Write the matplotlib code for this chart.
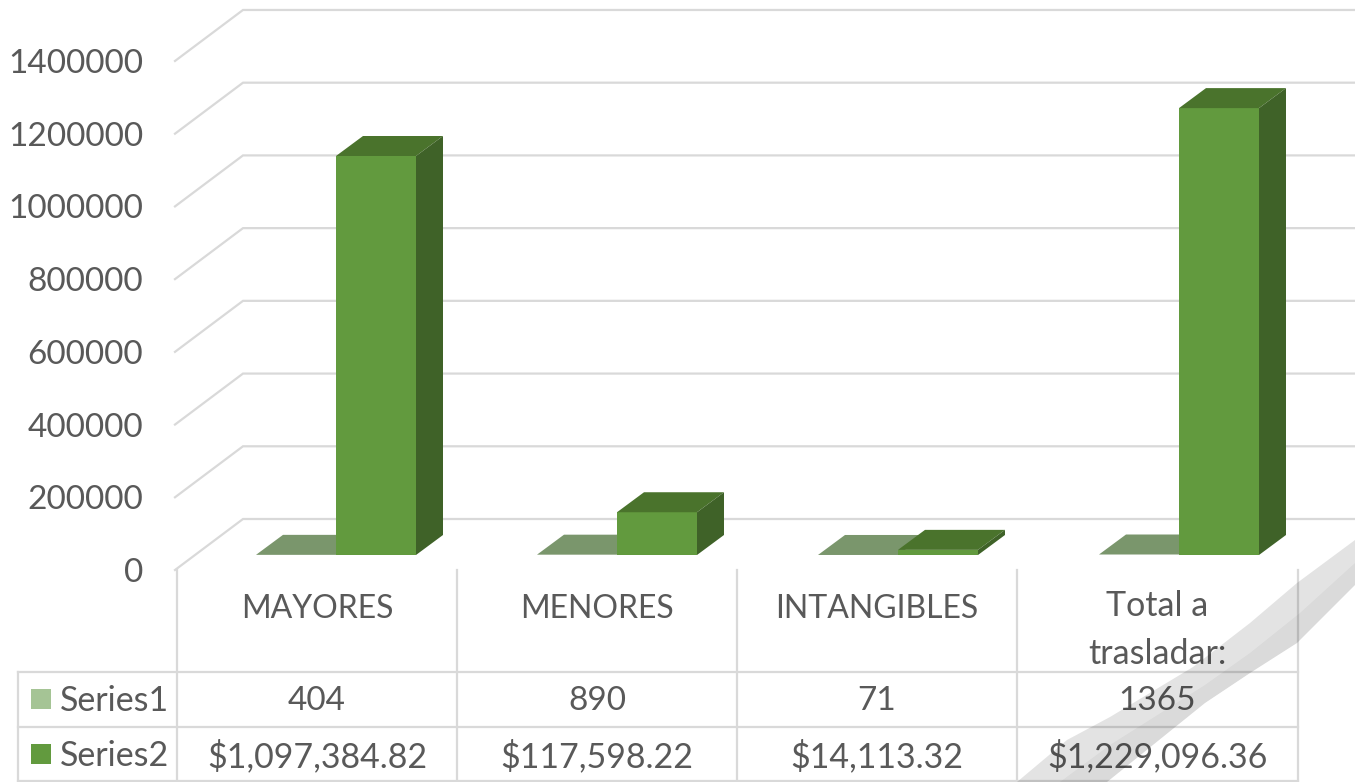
import matplotlib
matplotlib.use("Agg")
import matplotlib.pyplot as plt
from matplotlib.patches import Polygon

plt.rcParams["font.family"] = ["Lato", "DejaVu Sans"]

# Data
categories = ["MAYORES", "MENORES", "INTANGIBLES", "Total a\ntrasladar:"]
series_names = ["Series1", "Series2"]
series1 = [404, 890, 71, 1365]
series2 = [1097384.82, 117598.22, 14113.32, 1229096.36]
series1_labels = ["404", "890", "71", "1365"]
series2_labels = ["$1,097,384.82", "$117,598.22", "$14,113.32", "$1,229,096.36"]
y_ticks = [0, 200000, 400000, 600000, 800000, 1000000, 1200000, 1400000]

# Colours
text_col = "#595959"
grid_col = "#d9d9d9"
front_col = "#629a3e"
top_col = "#4a732c"
side_col = "#3f6228"
floor_col = "#7a966c"
swatch1 = "#a5c495"

W, H = 1355, 782
px_per_val = 399 / 1097384.82
px_per_cat = 281
x0_px, y0_px = 336, 555   # edge between the two bars of the first category, bar base


def dx(px):
    return px / px_per_cat


def dy(px):
    return px / px_per_val


fig = plt.figure(figsize=(W / 100, H / 100), dpi=100)
ax = fig.add_axes([0, 0, 1, 1])
ax.set_xlim(dx(-x0_px), dx(W - x0_px))
ax.set_ylim(dy(y0_px - H), dy(y0_px))
ax.axis("off")

# gridlines: floor side wall then back wall
for v in y_ticks:
    ax.plot([dx(175 - x0_px), dx(243 - x0_px), dx(W - x0_px)],
            [v - dy(15), v + dy(36), v + dy(36)],
            color=grid_col, lw=1.6, solid_joinstyle="miter", zorder=1)
    ax.text(dx(143 - x0_px), v - dy(18), str(v), ha="right", va="center",
            color=text_col, fontsize=24, zorder=5)

# bars
bw = dx(80)
dep_x, dep_y = dx(27), dy(20)
for i in range(len(categories)):
    x1 = i - bw
    ax.add_patch(Polygon([(x1, series1[i]), (x1 + bw, series1[i]),
                          (x1 + bw + dep_x, series1[i] + dep_y), (x1 + dep_x, series1[i] + dep_y)],
                         color=floor_col, lw=0, zorder=2))
ax.bar(range(len(categories)), series2, width=bw, align="edge", color=front_col, zorder=3)
for i, v in enumerate(series2):
    xl, xr = i, i + bw
    ax.add_patch(Polygon([(xl, v), (xr, v), (xr + dep_x, v + dep_y), (xl + dep_x, v + dep_y)],
                         color=top_col, lw=0, zorder=3))
    ax.add_patch(Polygon([(xr, 0), (xr + dep_x, dep_y), (xr + dep_x, v + dep_y), (xr, v)],
                         color=side_col, lw=0, zorder=3))

# data table, drawn in pixel space
tb = fig.add_axes([0, 0, 1, 1], facecolor="none")
tb.set_xlim(0, W)
tb.set_ylim(H, 0)
tb.axis("off")

col_x = [177, 457, 737, 1017, 1298]
for x in col_x:
    tb.plot([x, x], [570, H], color=grid_col, lw=1.6, zorder=1)
tb.plot([18, 18], [672, H], color=grid_col, lw=1.6, zorder=1)
for y in [672, 727, H - 1]:
    tb.plot([18, 1298], [y, y], color=grid_col, lw=1.6, zorder=1)

for i in range(len(categories)):
    cx = (col_x[i] + col_x[i + 1]) / 2
    if "\n" in categories[i]:
        tb.text(cx, 630, categories[i], ha="center", va="center",
                color=text_col, fontsize=24.5, linespacing=1.6, zorder=5)
    else:
        tb.text(cx, 609, categories[i], ha="center", va="center",
                color=text_col, fontsize=23, zorder=5)
    tb.text(cx, 701, series1_labels[i], ha="center", va="center", color=text_col, fontsize=24, zorder=5)
    tb.text(cx, 756, series2_labels[i], ha="center", va="center", color=text_col, fontsize=24.5, zorder=5)

# legend keys
for y, name, col in [(699, series_names[0], swatch1), (754, series_names[1], front_col)]:
    tb.add_patch(Polygon([(31, y - 10), (51, y - 10), (51, y + 10), (31, y + 10)], color=col, lw=0, zorder=4))
    tb.text(60, y + 2, name, ha="left", va="center", color=text_col, fontsize=24.5, zorder=5)

# grey watermark stroke, bottom right
tb.add_patch(Polygon([(1017, H), (1067, 740), (1110, 717), (1193, 667), (1250, 623), (1297, 583), (1355, 540),
                      (1355, 585), (1297, 643), (1250, 673), (1205, 703), (1107, H)],
                     color="black", alpha=0.11, lw=0, zorder=6))
tb.add_patch(Polygon([(1060, H), (1110, 745), (1205, 685), (1250, 653), (1300, 613), (1355, 563),
                      (1355, 585), (1297, 643), (1250, 673), (1205, 703), (1107, H)],
                     color="black", alpha=0.04, lw=0, zorder=6))

fig.savefig("out.png", dpi=100)
